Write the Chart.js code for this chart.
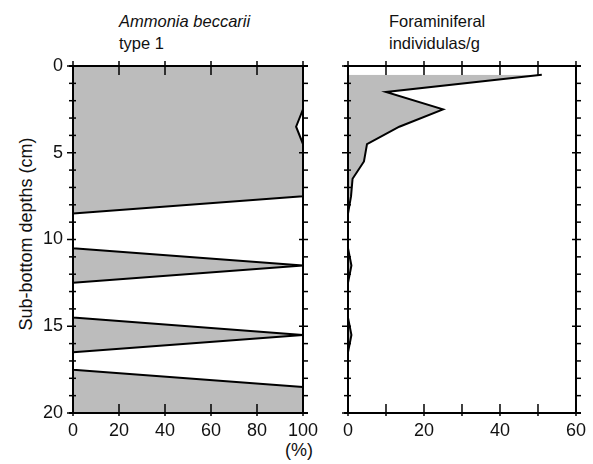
<!DOCTYPE html>
<html>
<head>
<meta charset="utf-8">
<script src="https://cdn.jsdelivr.net/npm/chart.js@4"></script>
<style>
    body { margin: 0; background: #fff; width: 593px; height: 464px; position: relative; overflow: hidden;
           font-family: "Liberation Sans", Arial, sans-serif; color: #111; }
    canvas { position: absolute; top: 0; }
    .ttl { position: absolute; font-size: 16.5px; line-height: 22px; white-space: nowrap; }
    .ylab { position: absolute; font-size: 18px; line-height: 20px; white-space: nowrap;
            left: 26px; top: 234px; transform: translate(-50%, -50%) rotate(-90deg); }
</style>
</head>
<body>
<div class="ttl" style="left:119px; top:10px;"><i>Ammonia beccarii</i><br>type 1</div>
<div class="ttl" style="left:389px; top:10px;">Foraminiferal<br>individulas/g</div>
<div class="ttl" style="left:285px; top:440px; font-size:18px; line-height:20px;">(%)</div>
<div class="ylab">Sub-bottom depths (cm)</div>
<canvas id="leftChart" width="330" height="464" style="left:0"></canvas>
<canvas id="rightChart" width="263" height="464" style="left:330px"></canvas>

<script>
// ---- data ----
const abDepth = [0, 0.5, 1.5, 2.5, 3.5, 4.5, 5.5, 6.5, 7.5, 8.5, 9.5, 10.5, 11.5, 12.5, 13.5, 14.5, 15.5, 16.5, 17.5, 18.5, 19.5, 20];
const abPercent = [100, 100, 100, 100, 97, 100, 100, 100, 100, 0, 0, 0, 100, 0, 0, 0, 100, 0, 0, 100, 100, 100];

const foDepth = [0.5, 1.5, 2.5, 3.5, 4.5, 5.5, 6.5, 7.5, 8.5, 9.5, 10.5, 11.5, 12.5, 13.5, 14.5, 15.5, 16.5, 17.5, 18.5, 19.5, 20];
const foCount = [51, 10, 25, 13.5, 5, 4.2, 1.2, 0.8, 0, 0, 0, 0.9, 0, 0, 0, 0.9, 0, 0, 0, 0, 0];

const depthTicks = [0, 5, 10, 15, 20];
const FONT = { family: 'Liberation Sans', size: 18 };
const FILL = '#bcbcbc';

// frame + tick marks drawn on all four sides, positions from the scales
const frameTicks = {
    id: 'frameTicks',
    afterDraw(chart, args, opts) {
        const { ctx, chartArea: a, scales: { x, y } } = chart;
        const seg = (x1, y1, x2, y2) => { ctx.beginPath(); ctx.moveTo(x1, y1); ctx.lineTo(x2, y2); ctx.stroke(); };
        ctx.save();
        ctx.strokeStyle = '#000';
        ctx.lineWidth = 2;
        ctx.strokeRect(a.left, a.top, a.right - a.left, a.bottom - a.top);
        seg(a.left - 4, a.top, a.right + 5, a.top);
        seg(a.left - 4, a.bottom, a.right + 5, a.bottom);
        ctx.lineWidth = 1.5;
        for (let v = x.min; v <= x.max; v += opts.xStep) {
            const px = x.getPixelForValue(v);
            seg(px, a.top - 5, px, a.top + 9);
            seg(px, a.bottom - 9, px, a.bottom + 3);
        }
        for (let v = y.min; v <= y.max; v += 1) {
            const py = y.getPixelForValue(v);
            const major = depthTicks.includes(v);
            seg(a.left - (major ? 6 : 4), py, a.left + 3, py);
            seg(a.right - (major ? 4 : 0), py, a.right + 5, py);
        }
        ctx.restore();
    }
};

function profileChart(id, depths, values, xMax, xLabelStep, xTickStep, showDepthLabels, pad) {
    const points = depths.map((d, i) => ({ x: values[i], y: d }));
    return new Chart(document.getElementById(id), {
        type: 'line',
        data: {
            datasets: [{
                data: points,
                borderColor: '#000',
                borderWidth: 2,
                backgroundColor: FILL,
                fill: 'origin',
                pointRadius: 0,
                tension: 0
            }]
        },
        options: {
            indexAxis: 'y',
            responsive: false,
            animation: false,
            events: [],
            layout: { padding: { left: 0, right: pad.right, top: 66, bottom: 0 } },
            plugins: {
                legend: { display: false },
                tooltip: { enabled: false },
                frameTicks: { xStep: xTickStep }
            },
            scales: {
                x: {
                    type: 'linear', min: 0, max: xMax,
                    grid: { display: false, drawTicks: false },
                    border: { display: false },
                    afterFit: s => { s.height = 51; },
                    ticks: { stepSize: xLabelStep, padding: 7, color: '#111', font: FONT, maxRotation: 0 }
                },
                y: {
                    type: 'linear', min: 0, max: 20, reverse: true,
                    grid: { display: false, drawTicks: false },
                    border: { display: false },
                    afterFit: s => { s.width = pad.left; },
                    ticks: { display: showDepthLabels, stepSize: 5, padding: 10, color: '#111', font: FONT }
                }
            }
        },
        plugins: [frameTicks]
    });
}

profileChart('leftChart', abDepth, abPercent, 100, 20, 20, true, { left: 73, right: 27 });
profileChart('rightChart', foDepth, foCount, 60, 20, 10, false, { left: 18, right: 14 });
</script>
</body>
</html>
